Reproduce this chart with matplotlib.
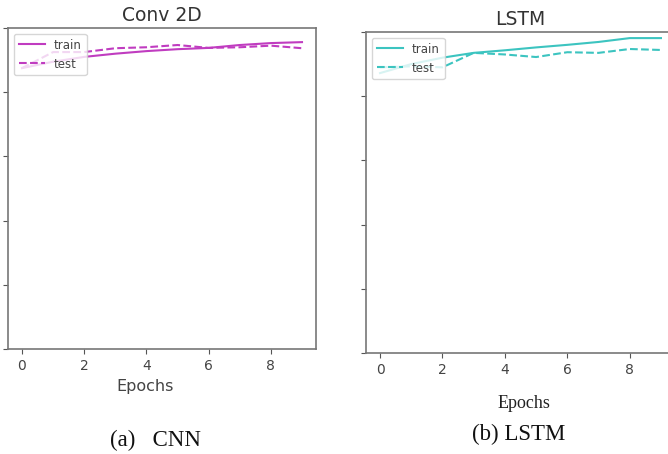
import matplotlib
matplotlib.use("Agg")
import matplotlib.pyplot as plt

# epochs and accuracy curves
epochs = list(range(10))
cnn_train = [0.875, 0.895, 0.910, 0.920, 0.928, 0.934, 0.938, 0.947, 0.953, 0.956]
cnn_test = [0.875, 0.925, 0.925, 0.937, 0.940, 0.947, 0.938, 0.940, 0.945, 0.937]
lstm_train = [0.872, 0.900, 0.920, 0.935, 0.943, 0.952, 0.960, 0.969, 0.981, 0.981]
lstm_test = [0.890, 0.893, 0.890, 0.935, 0.930, 0.922, 0.937, 0.935, 0.947, 0.944]
yticks = [0, 0.2, 0.4, 0.6, 0.8, 1.0]
xticks = [0, 2, 4, 6, 8]

fig = plt.figure(figsize=(6.68, 4.54), dpi=100)

# left panel: Conv 2D
ax1 = fig.add_axes([8 / 668, 1 - 349 / 454, 308 / 668, 321 / 454])
ax1.plot(epochs, cnn_train, color="#c03cc0", lw=1.5, label="train")
ax1.plot(epochs, cnn_test, color="#c03cc0", lw=1.5, ls="--", label="test")
ax1.set_title("Conv 2D", fontsize=13.5, color="#333333", pad=5)
ax1.set_xlabel("Epochs", fontsize=11.5, color="#444444")
ax1.xaxis.set_label_coords(0.445, -0.095)

# right panel: LSTM (runs off the right edge like the source)
ax2 = fig.add_axes([366 / 668, 1 - 353 / 454, 309 / 668, 321 / 454])
ax2.plot(epochs, lstm_train, color="#3cc4c0", lw=1.5, label="train")
ax2.plot(epochs, lstm_test, color="#3cc4c0", lw=1.5, ls="--", label="test")
ax2.set_title("LSTM", fontsize=13.5, color="#333333", pad=5)
ax2.set_xlabel("Epochs", fontsize=13, family="Liberation Serif", color="#222222")
ax2.xaxis.set_label_coords(0.511, -0.13)

for ax in (ax1, ax2):
    ax.set_xlim(-0.45, 9.45)
    ax.set_ylim(0, 1)
    ax.set_xticks(xticks)
    ax.set_yticks(yticks)
    ax.tick_params(labelleft=False, labelsize=10, colors="#555555", labelcolor="#444444")
    for s in ax.spines.values():
        s.set_color("#777777")
        s.set_linewidth(1.2)
    leg = ax.legend(loc="upper left", fontsize=8.5, framealpha=0.8,
                    borderpad=0.4, handlelength=2.2)
    for t in leg.get_texts():
        t.set_color("#444444")

fig.text(155 / 668, 1 - 440 / 454, "(a)   CNN", fontsize=16.5, family="Liberation Serif",
         ha="center", va="center", color="#111111")
fig.text(519 / 668, 1 - 434 / 454, "(b) LSTM", fontsize=16.5, family="Liberation Serif",
         ha="center", va="center", color="#111111")

fig.savefig("out.png", dpi=100)
